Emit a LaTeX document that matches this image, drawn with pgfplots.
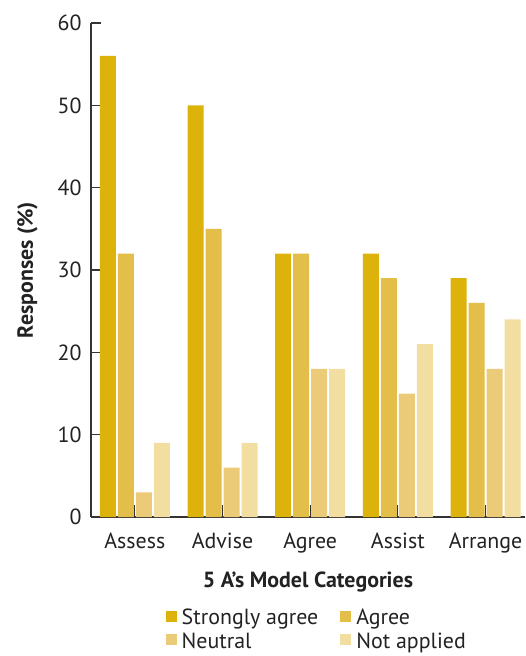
\documentclass[border=0pt]{standalone}
\usepackage{fontspec}
\setmainfont{PT Sans}
\usepackage{pgfplots}
\pgfplotsset{compat=1.18}

\definecolor{cStrong}{RGB}{221,178,10}
\definecolor{cAgree}{RGB}{227,190,72}
\definecolor{cNeutral}{RGB}{235,203,120}
\definecolor{cNotApp}{RGB}{242,222,160}
\definecolor{axisgray}{RGB}{51,51,51}
\definecolor{txt}{RGB}{34,34,34}

\pgfplotsset{
  sqlegend/.style = {
    /pgfplots/legend image code/.code={%
      \fill[##1] (0pt,-3pt) rectangle (11pt,8pt);},
  },
}

\begin{document}
\fontsize{22}{26}\selectfont
\begin{tikzpicture}
  \begin{axis}[
    at = {(0,0)}, anchor = south west,
    scale only axis,
    width = 434bp, height = 494bp,
    ybar = 2bp, bar width = 16bp,
    xmin = -0.5, xmax = 4.45,
    ymin = 0, ymax = 60,
    ytick = {0,10,...,60},
    xtick = data,
    xticklabels = {Assess, Advise, Agree, Assist, Arrange},
    axis lines = left,
    axis line style = {-, axisgray, line width = 1.2pt},
    tick style = {axisgray, line width = 1.2pt},
    tick align = inside,
    x tick style = {/pgfplots/major tick length = 12bp},
    y tick style = {/pgfplots/major tick length = 10bp},
    /pgf/number format/assume math mode = true,
    tick label style = {font = \fontsize{22}{26}\selectfont, text = txt},
    xticklabel style = {yshift = -8bp},
    yticklabel style = {xshift = -2bp},
    ylabel = {\textbf{Responses (\%)}},
    xlabel = {\textbf{5 A’s Model Categories}},
    label style = {font = \fontsize{22}{26}\selectfont, text = txt},
    ylabel style = {yshift = 5bp},
    xlabel style = {yshift = -4bp},
    legend style = {
      at = {(0.165,-0.178)}, anchor = north west,
      draw = none, fill = none,
      font = \fontsize{22}{26}\selectfont, text = txt,
      legend columns = 2,
      /tikz/every even column/.append style = {column sep = 20bp},
      row sep = 1bp,
      /tikz/every odd column/.append style = {inner xsep = 0pt, column sep = 3bp},
    },
    legend cell align = left,
    sqlegend,
  ]
    \addplot[fill = cStrong, draw = none]  coordinates { (0,56) (1,50) (2,32) (3,32) (4,29) };
    \addplot[fill = cAgree, draw = none]   coordinates { (0,32) (1,35) (2,32) (3,29) (4,26) };
    \addplot[fill = cNeutral, draw = none] coordinates { (0,3)  (1,6)  (2,18) (3,15) (4,18) };
    \addplot[fill = cNotApp, draw = none]  coordinates { (0,9)  (1,9)  (2,18) (3,21) (4,24) };
    \legend{Strongly agree, Agree, Neutral, Not applied}
  \end{axis}
  \pgfresetboundingbox
  \path (-91bp,-139bp) rectangle (435bp,517bp);
\end{tikzpicture}
\end{document}
